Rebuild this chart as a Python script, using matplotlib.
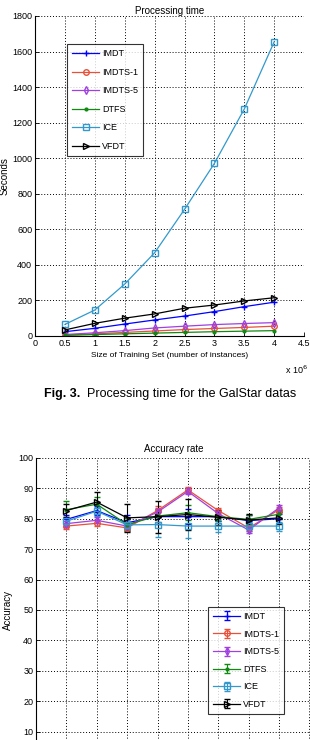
import matplotlib
matplotlib.use("Agg")
import matplotlib.pyplot as plt
import numpy as np

plt.rcParams['font.family'] = ['Liberation Sans', 'DejaVu Sans']

# ---- processing time (seconds) vs training set size (x 10^6) ----
sizes = [0.5, 1.0, 1.5, 2.0, 2.5, 3.0, 3.5, 4.0]
t_imdt = [24, 43, 67, 90, 112, 137, 165, 190]
t_imdts1 = [5, 12, 20, 28, 36, 42, 48, 55]
t_imdts5 = [8, 18, 30, 45, 55, 64, 70, 75]
t_dtfs = [3, 8, 12, 16, 20, 24, 27, 30]
t_ice = [65, 146, 292, 468, 712, 971, 1277, 1655]
t_vfdt = [34, 71, 100, 124, 156, 174, 197, 215]

# ---- accuracy rate with error bars ----
chunks = [1, 2, 3, 4, 5, 6, 7, 8]
a_imdt = [79.8, 82.7, 78.7, 80.7, 80.7, 80.7, 79.4, 80.0]
a_imdts1 = [77.6, 78.5, 77.0, 82.7, 89.5, 82.7, 77.0, 83.0]
a_imdts5 = [78.4, 79.5, 77.6, 82.2, 89.0, 81.7, 76.3, 83.6]
a_dtfs = [83.0, 84.8, 78.1, 80.9, 82.0, 80.7, 79.8, 81.5]
a_ice = [79.2, 82.5, 78.0, 78.1, 77.6, 77.6, 77.6, 77.6]
a_vfdt = [82.7, 85.5, 80.3, 80.7, 81.4, 80.5, 79.6, 80.3]
e_imdt = [1.5, 1.5, 2.5, 2.5, 2.5, 1.5, 2.0, 1.5]
e_imdts1 = [1.0, 1.0, 1.0, 1.5, 1.0, 1.0, 1.0, 1.0]
e_imdts5 = [1.0, 1.0, 1.0, 1.5, 1.0, 1.0, 1.0, 1.0]
e_dtfs = [2.8, 2.5, 2.0, 2.0, 2.5, 1.5, 1.5, 1.5]
e_ice = [1.5, 1.5, 1.5, 4.0, 4.0, 2.0, 1.5, 1.5]
e_vfdt = [2.0, 3.2, 4.5, 5.3, 5.0, 2.5, 2.0, 2.0]

names = ['IMDT', 'IMDTS-1', 'IMDTS-5', 'DTFS', 'ICE', 'VFDT']
colors = ['#0000ff', '#e8503a', '#a040e0', '#108a10', '#3399cc', '#000000']
markers = ['+', 'o', 'd', '.', 's', '>']

fig = plt.figure(figsize=(3.1, 7.4), dpi=100)

def style(ax):
    ax.grid(True, linestyle=(0, (1, 2)), color='black', linewidth=0.7)
    for s in ['top', 'right']:
        ax.spines[s].set_visible(False)
    for s in ['left', 'bottom']:
        ax.spines[s].set_linewidth(0.8)
    ax.tick_params(direction='in', length=3, labelsize=6.5, width=0.6, pad=2)

# top chart
ax1 = fig.add_axes([0.113, 0.546, 0.868, 0.4324])
times = [t_imdt, t_imdts1, t_imdts5, t_dtfs, t_ice, t_vfdt]
for vals, n, c, m in zip(times, names, colors, markers):
    ax1.plot(sizes, vals, color=c, marker=m, markersize=4, linewidth=0.9,
             markerfacecolor='none' if m in 'ods>' else c, label=n)
ax1.set_xlim(0, 4.5)
ax1.set_ylim(0, 1800)
ax1.set_xticks(np.arange(0, 4.6, 0.5))
ax1.set_xticklabels(['0', '0.5', '1', '1.5', '2', '2.5', '3', '3.5', '4', '4.5'])
ax1.set_yticks(range(0, 1801, 200))
style(ax1)
ax1.set_title('Processing time', fontsize=7, pad=1)
ax1.set_ylabel('Seconds', fontsize=7, labelpad=2)
ax1.set_xlabel('Size of Training Set (number of instances)', fontsize=6, labelpad=3)
ax1.text(0.97, -0.105, r'x 10$^6$', transform=ax1.transAxes, fontsize=6.5,
         ha='center', va='center')
leg1 = ax1.legend(loc='upper left', bbox_to_anchor=(0.118, 0.9125), fontsize=6.5,
                  frameon=True, fancybox=False, edgecolor='black', handlelength=3,
                  borderpad=0.6, labelspacing=1.05, handletextpad=0.3,
                  borderaxespad=0)
leg1.get_frame().set_linewidth(0.8)

fig.text(0.142, 0.468, 'Fig. 3.', fontsize=9, fontweight='bold', ha='left', va='center')
fig.text(0.281, 0.468, 'Processing time for the GalStar datas', fontsize=9,
         ha='left', va='center')

# bottom chart (its lower part lies below the picture's edge)
ax2 = fig.add_axes([0.116, -0.0297, 0.89, 0.4108])
accs = [a_imdt, a_imdts1, a_imdts5, a_dtfs, a_ice, a_vfdt]
errs = [e_imdt, e_imdts1, e_imdts5, e_dtfs, e_ice, e_vfdt]
for vals, err, n, c, m in zip(accs, errs, names, colors, markers):
    ax2.errorbar(chunks, vals, yerr=err, color=c, marker=m, markersize=4,
                 linewidth=0.9, elinewidth=0.8, capsize=2,
                 markerfacecolor='none' if m in 'ods>' else c, label=n)
ax2.set_xlim(0, 9.08)
ax2.set_ylim(0, 100)
ax2.set_xticks(range(0, 10))
ax2.set_yticks(range(10, 101, 10))
style(ax2)
ax2.tick_params(labelbottom=False)
ax2.set_title('Accuracy rate', fontsize=7, pad=4)
ax2.set_ylabel('Accuracy', fontsize=7, labelpad=4)
leg2 = ax2.legend(loc='upper left', bbox_to_anchor=(0.623, 0.511), fontsize=6.5,
                  frameon=True, fancybox=False, edgecolor='black', handlelength=3,
                  borderpad=0.6, labelspacing=0.95, handletextpad=0.3,
                  borderaxespad=0)
leg2.get_frame().set_linewidth(0.8)

fig.savefig('out.png', dpi=100)
